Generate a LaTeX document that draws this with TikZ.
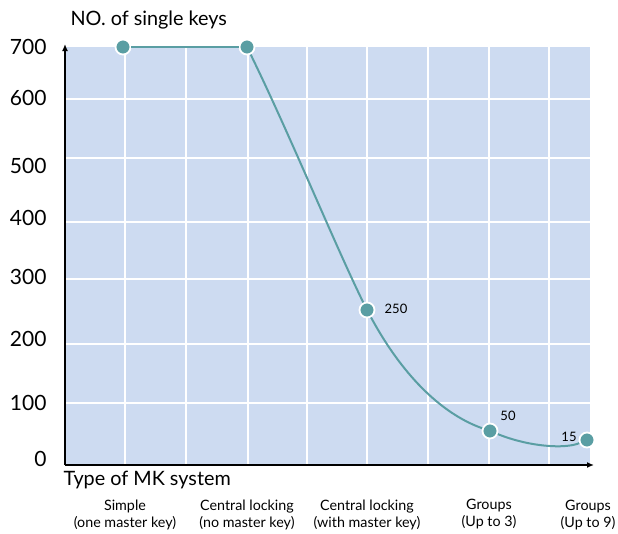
\documentclass[tikz,border=0pt]{standalone}
\usepackage{fontspec}
\setmainfont{Lato}
\usetikzlibrary{arrows.meta}
\definecolor{gridblue}{HTML}{CDDBF1}
\definecolor{curveteal}{HTML}{5A9EA3}

\begin{document}
\begin{tikzpicture}[x=1pt,y=-1pt,
    gridline/.style={white, line width=1.6pt},
    axisline/.style={black, line width=1.5pt, -{Latex[length=7pt,width=6pt]}},
    keypoint/.style={circle, fill=curveteal, draw=white, line width=1.8pt, inner sep=0pt, minimum size=15pt},
    keycurve/.style={curveteal, line width=2pt},
    ticklabel/.style={anchor=east, font=\fontsize{21}{21}\selectfont},
    axistitle/.style={anchor=west, font=\fontsize{19.8}{20}\selectfont},
    catlabel/.style={align=center, font=\fontsize{14.3}{17}\selectfont},
    valuelabel/.style={font=\fontsize{13}{13}\selectfont}]
    \useasboundingbox (0,0) rectangle (618,533);

    \fill[gridblue] (65,47) rectangle (590,465);

    % grid
    \draw[gridline] (125,47) -- (125,465);
    \draw[gridline] (186,47) -- (186,465);
    \draw[gridline] (248,47) -- (248,465);
    \draw[gridline] (307,47) -- (307,465);
    \draw[gridline] (367,47) -- (367,465);
    \draw[gridline] (428,47) -- (428,465);
    \draw[gridline] (489,47) -- (489,465);
    \draw[gridline] (549,47) -- (549,465);

    \draw[gridline] (65,99) -- (590,99);
    \draw[gridline] (65,158) -- (590,158);
    \draw[gridline] (65,222) -- (590,222);
    \draw[gridline] (65,279) -- (590,279);
    \draw[gridline] (65,344) -- (590,344);
    \draw[gridline] (65,403) -- (590,403);

    % axes
    \coordinate (origin) at (65,465);
    \coordinate (ytip) at (65,44);
    \coordinate (xtip) at (594,465);
    \draw[axisline] (origin) -- (ytip);
    \draw[axisline] (origin) -- (xtip);

    \node[ticklabel] (y700) at (50,47) {700};
    \node[ticklabel] (y600) at (50,98) {600};
    \node[ticklabel] (y500) at (50,166) {500};
    \node[ticklabel] (y400) at (50,218) {400};
    \node[ticklabel] (y300) at (50,277) {300};
    \node[ticklabel] (y200) at (50,339) {200};
    \node[ticklabel] (y100) at (50,403) {100};
    \node[ticklabel] (y0) at (50,459) {0};

    \node[axistitle] (ytitle) at (67,20) {NO. of single keys};
    \node[axistitle] (xtitle) at (60,480) {Type of MK system};

    % categories
    \node[catlabel] (simple) at (125,515) {Simple\\(one master key)};
    \node[catlabel] (central) at (247,515) {Central locking\\(no master key)};
    \node[catlabel] (centralmk) at (367,515) {Central locking\\(with master key)};
    \node[catlabel] (groups3) at (489,514) {Groups\\(Up to 3)};
    \node[catlabel] (groups9) at (588,515) {Groups\\(Up to 9)};

    % curve
    \node[keypoint] (pta) at (123,47) {};
    \node[keypoint] (ptb) at (247,47) {};
    \node[keypoint] (ptc) at (367,310) {};
    \node[keypoint] (ptd) at (490,431) {};
    \node[keypoint] (pte) at (587,440) {};

    \draw[keycurve] (pta) -- (ptb);
    \draw[keycurve] (ptb) .. controls (290,135) and (335,245) .. (ptc);
    \draw[keycurve] (ptc) .. controls (405,380) and (445,415) .. (ptd);
    \draw[keycurve] (ptd) .. controls (530,447) and (565,449) .. (pte);

    \node[valuelabel] (v250) at (396,309) {250};
    \node[valuelabel] (v50) at (508,416) {50};
    \node[valuelabel] (v15) at (569,437) {15};

\end{tikzpicture}
\end{document}
